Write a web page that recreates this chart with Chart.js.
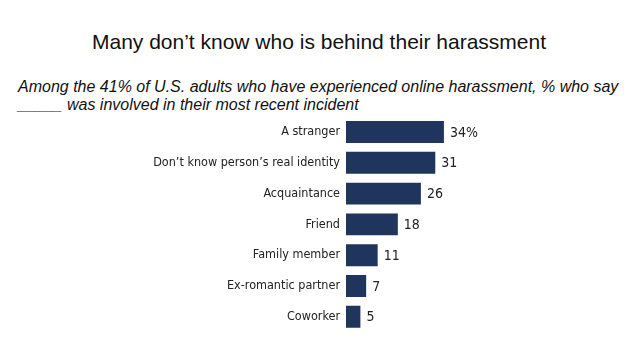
<!DOCTYPE html>
<html>
<head>
<meta charset="utf-8">
<script src="https://cdn.jsdelivr.net/npm/chart.js@4.4.1/dist/chart.umd.min.js"></script>
<style>
  html, body { margin: 0; padding: 0; background: #fff; }
  #wrap { position: relative; width: 638px; height: 359px; overflow: hidden; }
  #title { position: absolute; left: 0; top: 30px; width: 638px; text-align: center;
    font-family: "Liberation Sans", Arial, sans-serif; font-size: 21px; color: #111; }
  #sub { position: absolute; left: 18px; top: 78px; width: 618px;
    font-family: "Liberation Sans", Arial, sans-serif; font-style: italic; font-size: 16px;
    line-height: 18px; color: #111; }
  canvas { position: absolute; left: 0; top: 0; }
</style>
</head>
<body>
<div id="wrap">
  <div id="title">Many don’t know who is behind their harassment</div>
  <div id="sub">Among the 41% of U.S. adults who have experienced online harassment, % who say<br>_____ was involved in their most recent incident</div>
  <canvas id="c" width="638" height="359"></canvas>
</div>
<script>
// categories and values
const categories = ["A stranger", "Don’t know person’s real identity", "Acquaintance", "Friend", "Family member", "Ex-romantic partner", "Coworker"];
const values = [34, 31, 26, 18, 11, 7, 5];
const valueLabels = ["34%", "31", "26", "18", "11", "7", "5"];

const barColor = "#1f355e";
const labelFont = "'DejaVu Sans Condensed', 'Liberation Sans Narrow', sans-serif";

// write the value next to each bar
const valueLabelPlugin = {
    id: "valueLabels",
    afterDatasetsDraw(chart) {
        const ctx = chart.ctx;
        const meta = chart.getDatasetMeta(0);
        ctx.save();
        ctx.font = "14px " + labelFont;
        ctx.fillStyle = "#222";
        ctx.textBaseline = "middle";
        meta.data.forEach((bar, i) => {
            ctx.fillText(valueLabels[i], bar.x + 6, bar.y + 1);
        });
        ctx.restore();
    }
};

new Chart(document.getElementById("c"), {
    type: "bar",
    data: {
        labels: categories,
        datasets: [{
            data: values,
            backgroundColor: barColor,
            barPercentage: 0.71,
            categoryPercentage: 1
        }]
    },
    options: {
        indexAxis: "y",
        responsive: false,
        animation: false,
        layout: { padding: { top: 116.6, bottom: 26.8, left: 0, right: 148 } },
        plugins: { legend: { display: false }, tooltip: { enabled: false } },
        scales: {
            x: {
                min: 0, max: 50,
                display: false
            },
            y: {
                afterFit(scale) { scale.width = 346; },
                grid: { display: false, drawTicks: false },
                border: { display: false },
                ticks: {
                    color: "#222",
                    padding: 6,
                    font: { family: labelFont, size: 12.5 }
                }
            }
        }
    },
    plugins: [valueLabelPlugin]
});
</script>
</body>
</html>
